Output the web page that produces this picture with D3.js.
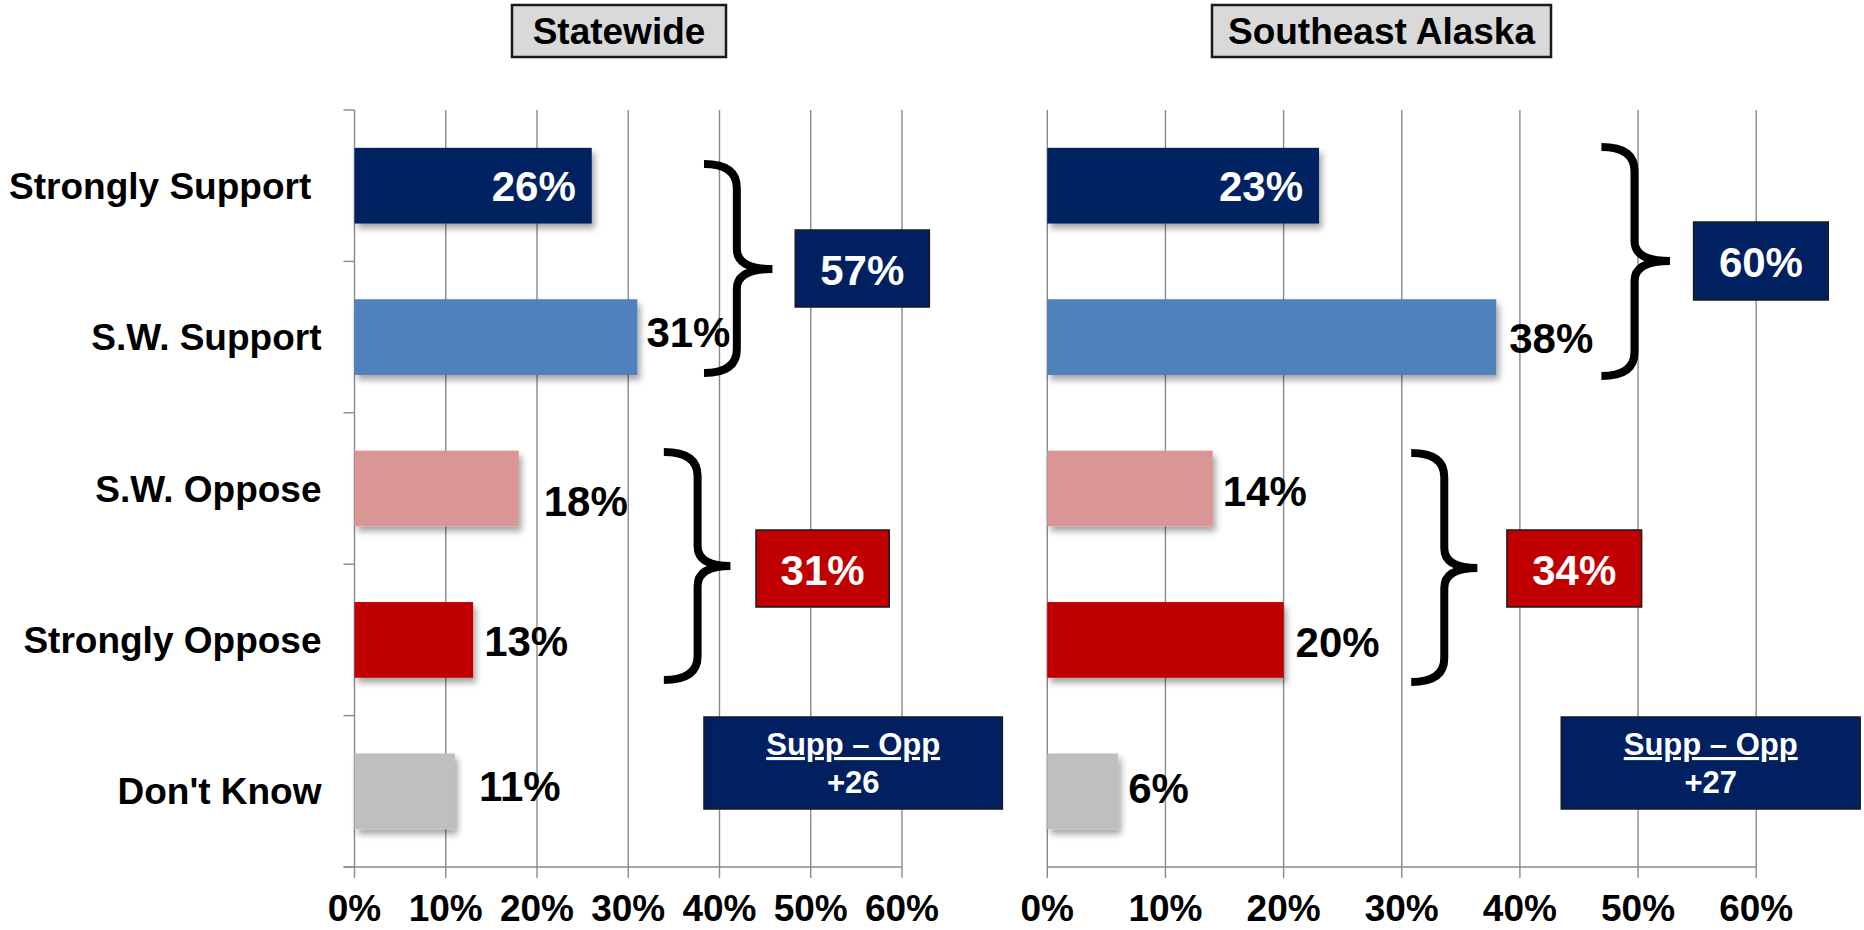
<!DOCTYPE html>
<html>
<head>
<meta charset="utf-8">
<script src="https://cdn.jsdelivr.net/npm/d3@7"></script>
<style>
  body { margin: 0; background: #fff; }
  svg { display: block; font-family: "Liberation Sans", Arial, sans-serif; font-weight: bold; }
</style>
</head>
<body>
<svg id="chart" width="1864" height="930"></svg>
<script>
/* global d3 */

const categories= ["Strongly Support ", "S.W. Support", "S.W. Oppose", "Strongly Oppose", "Don't Know"];
const barColors= ["#002060", "#4f81bd", "#d99694", "#c00000", "#bfbfbf"];
const statewide= [26, 31, 18, 13, 11];
const southeast= [23, 38, 14, 20, 6];
const panelTitles= ["Statewide", "Southeast Alaska"];
const supportTotals= [57, 60];
const opposeTotals= [31, 34];
const netLabels= ["+26", "+27"];
const xTicks= [0, 10, 20, 30, 40, 50, 60];

// layout only: pixel ranges, label nudges, annotation spots (x in % units)
const panels= [
  { values: statewide, range: [354.5, 902], title: [512, 726], yAxis: true,
    inside: [true, false, false, false, false],
    nudge: [[-16, 0], [9, -5], [25, 12], [11, 1], [24, -5]],
    braces: [[38.3, 41.9, 45.8, 164, 269, 373], [33.9, 37.6, 41.2, 452, 566, 680]],
    boxes: [[48.3, 63.0, 230, 307], [44.0, 58.6, 530, 607], [38.3, 71.0, 717, 809]] },
  { values: southeast, range: [1047.3, 1756.2], title: [1212, 1551], yAxis: false,
    inside: [true, false, false, false, false],
    nudge: [[-16, 0], [13, 1], [10, 2], [12, 2], [10, -3]],
    braces: [[46.9, 49.7, 52.7, 147, 261, 376], [30.8, 33.6, 36.4, 453, 568, 682]],
    boxes: [[54.7, 66.1, 222, 300], [38.9, 50.3, 530, 607], [43.5, 68.8, 717, 809]] }
];

const svg= d3.select('#chart');
const top0= 110, bottom0= 867;

const defs= svg.append('defs');
defs.append('filter').attr('id', 'shadow')
  .attr('x', '-10%').attr('y', '-10%').attr('width', '130%').attr('height', '150%')
  .append('feDropShadow')
  .attr('dx', 3).attr('dy', 5).attr('stdDeviation', 3)
  .attr('flood-color', '#000').attr('flood-opacity', 0.35);

const y= d3.scaleBand().domain(categories).range([top0, bottom0])
  .paddingInner(0.5).paddingOuter(0.25);

function brace(x, b) {
  const [xe, xb, xt, y0, ym, y1]= b;
  const e= x(xe), m= x(xb), t= x(xt);
  const r= 24, rt= 20;
  const p= d3.path();
  p.moveTo(e, y0);
  p.quadraticCurveTo(m, y0, m, y0+r);
  p.lineTo(m, ym-rt);
  p.quadraticCurveTo(m, ym, t, ym);
  p.quadraticCurveTo(m, ym, m, ym+rt);
  p.lineTo(m, y1-r);
  p.quadraticCurveTo(m, y1, e, y1);
  return p.toString();
}

panels.forEach((pn, pi) => {
  const x= d3.scaleLinear().domain([0, 60]).range(pn.range);
  const g= svg.append('g');

  // title box
  g.append('rect')
    .attr('x', pn.title[0]).attr('y', 5)
    .attr('width', pn.title[1]-pn.title[0]).attr('height', 52)
    .attr('fill', '#d9d9d9').attr('stroke', '#1a1a1a').attr('stroke-width', 2.5);
  g.append('text')
    .attr('x', (pn.title[0]+pn.title[1])/2).attr('y', 44)
    .attr('text-anchor', 'middle').attr('font-size', 37)
    .text(panelTitles[pi]);

  // gridlines
  g.selectAll('line.grid').data(xTicks).join('line')
    .attr('class', 'grid')
    .attr('x1', d => x(d)).attr('x2', d => x(d))
    .attr('y1', top0).attr('y2', bottom0+11)
    .attr('stroke', '#8a8a8a').attr('stroke-width', 1.4);

  // bottom axis line
  g.append('line')
    .attr('x1', pn.yAxis ? x(0)-11 : x(0)).attr('x2', x(60))
    .attr('y1', bottom0).attr('y2', bottom0)
    .attr('stroke', '#8a8a8a').attr('stroke-width', 1.6);

  // tick labels
  g.selectAll('text.tick').data(xTicks).join('text')
    .attr('class', 'tick')
    .attr('x', d => x(d)).attr('y', 921)
    .attr('text-anchor', 'middle').attr('font-size', 37)
    .text(d => d+'%');

  if (pn.yAxis) {
    const bounds= d3.range(categories.length+1).map(i => top0+i*y.step());
    g.selectAll('line.ytick').data(bounds).join('line')
      .attr('class', 'ytick')
      .attr('x1', x(0)-11).attr('x2', x(0))
      .attr('y1', d => d).attr('y2', d => d)
      .attr('stroke', '#8a8a8a').attr('stroke-width', 1.4);
    g.selectAll('text.cat').data(categories).join('text')
      .attr('class', 'cat')
      .attr('x', x(0)-33).attr('y', d => y(d)+y.bandwidth()/2+13)
      .attr('text-anchor', 'end').attr('font-size', 37)
      .style('white-space', 'pre')
      .text(d => d);
  }

  // bars
  g.selectAll('rect.bar').data(pn.values).join('rect')
    .attr('class', 'bar')
    .attr('x', x(0)).attr('y', (d, i) => y(categories[i]))
    .attr('width', d => x(d)-x(0)).attr('height', y.bandwidth())
    .attr('fill', (d, i) => barColors[i])
    .attr('filter', 'url(#shadow)');

  // value labels
  g.selectAll('text.val').data(pn.values).join('text')
    .attr('class', 'val')
    .attr('x', (d, i) => x(d)+pn.nudge[i][0])
    .attr('y', (d, i) => y(categories[i])+y.bandwidth()/2+15+pn.nudge[i][1])
    .attr('text-anchor', (d, i) => pn.inside[i] ? 'end' : 'start')
    .attr('fill', (d, i) => pn.inside[i] ? '#fff' : '#000')
    .attr('font-size', 42)
    .text(d => d+'%');

  // braces
  g.selectAll('path.brace').data(pn.braces).join('path')
    .attr('class', 'brace')
    .attr('d', b => brace(x, b))
    .attr('fill', 'none').attr('stroke', '#000').attr('stroke-width', 8);

  // summary boxes
  const boxFill= ['#002060', '#c00000', '#002060'];
  pn.boxes.forEach((b, bi) => {
    g.append('rect')
      .attr('x', x(b[0])).attr('y', b[2])
      .attr('width', x(b[1])-x(b[0])).attr('height', b[3]-b[2])
      .attr('fill', boxFill[bi]).attr('stroke', '#1a1a1a').attr('stroke-width', 1.5);
  });
  const cx= b => (x(b[0])+x(b[1]))/2;
  const [bs, bo, bn]= pn.boxes;
  g.append('text')
    .attr('x', cx(bs)).attr('y', (bs[2]+bs[3])/2+16)
    .attr('text-anchor', 'middle').attr('fill', '#fff').attr('font-size', 42)
    .text(supportTotals[pi]+'%');
  g.append('text')
    .attr('x', cx(bo)).attr('y', (bo[2]+bo[3])/2+16)
    .attr('text-anchor', 'middle').attr('fill', '#fff').attr('font-size', 42)
    .text(opposeTotals[pi]+'%');
  g.append('text')
    .attr('x', cx(bn)).attr('y', bn[2]+38)
    .attr('text-anchor', 'middle').attr('fill', '#fff').attr('font-size', 31)
    .attr('text-decoration', 'underline')
    .text('Supp \u2013 Opp');
  g.append('text')
    .attr('x', cx(bn)).attr('y', bn[2]+76)
    .attr('text-anchor', 'middle').attr('fill', '#fff').attr('font-size', 31)
    .text(netLabels[pi]);
});
</script>
</body>
</html>
